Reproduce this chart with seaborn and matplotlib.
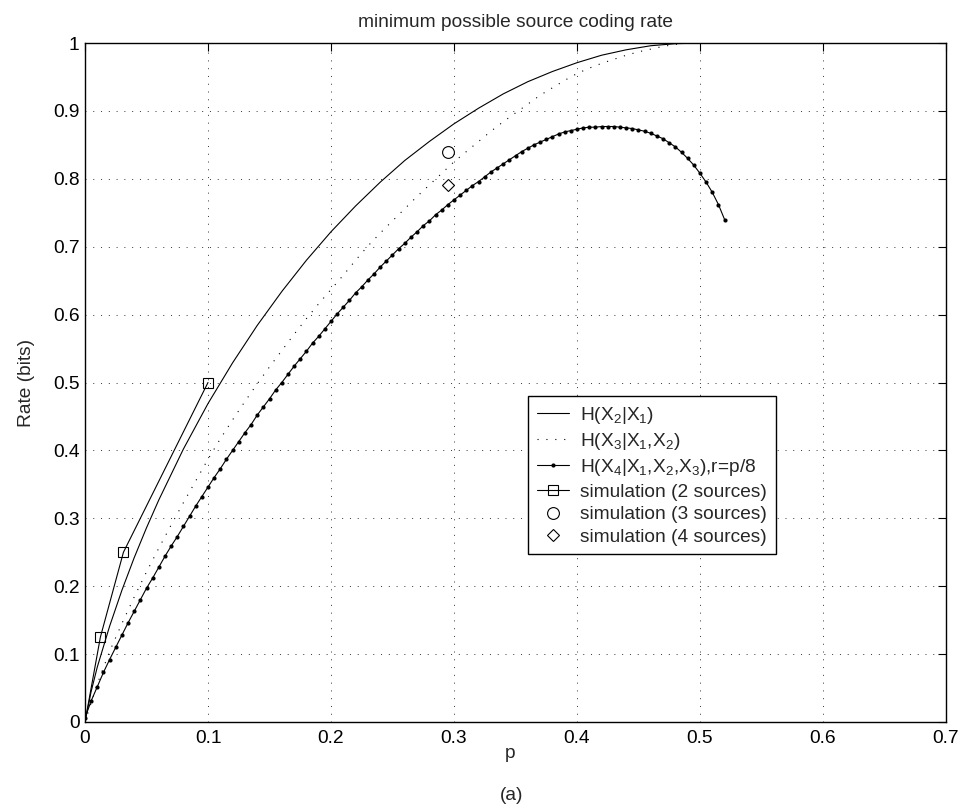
import numpy as np
import matplotlib
matplotlib.use("Agg")
import matplotlib.pyplot as plt
from matplotlib.lines import Line2D
from matplotlib.ticker import FormatStrFormatter
import seaborn as sns

# H(X2|X1)
p_h2 = [0, 0.005, 0.01, 0.02, 0.03, 0.04, 0.05, 0.06, 0.08, 0.10, 0.12, 0.14,
        0.16, 0.18, 0.20, 0.22, 0.24, 0.26, 0.28, 0.30, 0.32, 0.34, 0.36, 0.38,
        0.40, 0.42, 0.44, 0.46, 0.48, 0.50, 0.52]
h2 = [0, 0.045, 0.081, 0.141, 0.194, 0.242, 0.286, 0.327, 0.402, 0.469, 0.529,
      0.584, 0.634, 0.680, 0.722, 0.760, 0.795, 0.827, 0.855, 0.881, 0.904,
      0.925, 0.943, 0.958, 0.971, 0.982, 0.990, 0.996, 0.999, 1.000, 1.000]

# H(X3|X1,X2), dotted curve, every 0.01
p_h3 = np.linspace(0, 0.52, 53)
h3 = [0, 0.056, 0.104, 0.145, 0.184, 0.221, 0.256, 0.290, 0.323, 0.355,
      0.387, 0.417, 0.445, 0.472, 0.498, 0.523, 0.547, 0.571, 0.594, 0.616,
      0.637, 0.658, 0.680, 0.701, 0.720, 0.738, 0.756, 0.774, 0.791, 0.808,
      0.825, 0.840, 0.855, 0.870, 0.884, 0.897, 0.910, 0.923, 0.934, 0.945,
      0.955, 0.963, 0.970, 0.976, 0.982, 0.987, 0.991, 0.995, 0.998, 1.000,
      1.000, 1.000, 1.000]

# H(X4|X1,X2,X3), r=p/8, one dot every 0.005
p_h4 = np.linspace(0, 0.52, 105)
h4 = [0.006, 0.031, 0.052, 0.073, 0.092, 0.110, 0.128, 0.146, 0.163, 0.180,
      0.197, 0.212, 0.228, 0.244, 0.259, 0.273, 0.288, 0.303, 0.318, 0.332,
      0.346, 0.360, 0.373, 0.387, 0.400, 0.413, 0.426, 0.438, 0.452, 0.464,
      0.476, 0.489, 0.500, 0.512, 0.524, 0.535, 0.546, 0.558, 0.568, 0.579,
      0.590, 0.601, 0.611, 0.621, 0.632, 0.641, 0.651, 0.660, 0.670, 0.679,
      0.688, 0.697, 0.705, 0.714, 0.722, 0.731, 0.738, 0.747, 0.754, 0.762,
      0.769, 0.776, 0.783, 0.790, 0.796, 0.803, 0.810, 0.816, 0.822, 0.828,
      0.834, 0.840, 0.845, 0.850, 0.854, 0.858, 0.862, 0.866, 0.869, 0.871,
      0.873, 0.875, 0.876, 0.876, 0.877, 0.877, 0.877, 0.876, 0.875, 0.874,
      0.872, 0.870, 0.867, 0.863, 0.859, 0.853, 0.847, 0.839, 0.830, 0.820,
      0.808, 0.795, 0.780, 0.762, 0.740]

# simulations
sim2_p = [0, 0.0125, 0.03125, 0.1]
sim2_r = [0, 0.125, 0.25, 0.5]
sim3_p = [0.295]
sim3_r = [0.839]
sim4_p = [0.295]
sim4_r = [0.791]

labels = [r"H(X$_2$|X$_1$)",
          r"H(X$_3$|X$_1$,X$_2$)",
          r"H(X$_4$|X$_1$,X$_2$,X$_3$),r=p/8",
          "simulation (2 sources)",
          "simulation (3 sources)",
          "simulation (4 sources)"]

sns.set_style("white")
plt.rcParams["font.family"] = ["Liberation Sans", "DejaVu Sans"]
plt.rcParams["mathtext.fontset"] = "custom"
plt.rcParams["mathtext.rm"] = "Liberation Sans"
plt.rcParams["mathtext.it"] = "Liberation Sans:italic"
fs = 13.8
plt.rcParams["font.size"] = fs

fig = plt.figure(figsize=(9.61, 8.10), dpi=100)
ax = fig.add_axes([85 / 961, 1 - 722 / 810, 861 / 961, 679 / 810])

lw = 0.8
dotted = (0, (1, 7))
sns.lineplot(x=p_h2, y=h2, ax=ax, color="k", linewidth=lw, sort=False)
sns.lineplot(x=p_h3, y=h3, ax=ax, color="k", linewidth=0.8,
             linestyle=dotted, sort=False)
sns.lineplot(x=p_h4, y=h4, ax=ax, color="k", linewidth=lw, sort=False,
             marker="o", markersize=3, markeredgewidth=0)
sns.lineplot(x=sim2_p, y=sim2_r, ax=ax, color="k", linewidth=lw, sort=False)
ax.plot(sim2_p[1:], sim2_r[1:], ls="none", marker="s", ms=6.5,
        mfc="none", mec="k", mew=0.8)
ax.plot(sim3_p, sim3_r, ls="none", marker="o", ms=8.5,
        mfc="none", mec="k", mew=0.8)
ax.plot(sim4_p, sim4_r, ls="none", marker="D", ms=6,
        mfc="none", mec="k", mew=0.8)

ax.set_xlim(0, 0.7)
ax.set_ylim(0, 1)
ax.set_xticks(np.arange(0, 0.71, 0.1))
ax.set_yticks(np.arange(0, 1.01, 0.1))
ax.xaxis.set_major_formatter(FormatStrFormatter("%g"))
ax.yaxis.set_major_formatter(FormatStrFormatter("%g"))
ax.tick_params(direction="in", length=6, width=0.8, top=True, right=True,
               labelsize=fs, colors="k")
ax.tick_params(axis="x", pad=6)
ax.tick_params(axis="y", pad=4)
ax.grid(True, color="0.2", linestyle=dotted, linewidth=0.7)
for s in ax.spines.values():
    s.set_color("k")
    s.set_linewidth(1.0)

ax.set_title("minimum possible source coding rate", fontsize=fs, pad=11.5)
ax.set_xlabel("p", fontsize=fs)
ax.set_ylabel("Rate (bits)", fontsize=fs)
ax.xaxis.set_label_coords(0.494, -0.034)
ax.yaxis.set_label_coords(-0.058, 0.5)
fig.text(511.5 / 961, 1 - 796 / 810, "(a)", ha="center", va="center",
         fontsize=fs)

handles = [
    Line2D([], [], color="k", lw=lw),
    Line2D([], [], color="k", lw=0.8, ls=dotted),
    Line2D([], [], color="k", lw=lw, marker="o", ms=3, mew=0),
    Line2D([], [], color="k", lw=lw, marker="s", ms=6.5, mfc="none",
           mec="k", mew=0.8),
    Line2D([], [], ls="none", marker="o", ms=8.5, mfc="none", mec="k",
           mew=0.8),
    Line2D([], [], ls="none", marker="D", ms=6, mfc="none", mec="k",
           mew=0.8),
]
leg = ax.legend(handles, labels, loc="upper left",
                bbox_to_anchor=(0.5145, 0.480), borderaxespad=0,
                frameon=True, fancybox=False, edgecolor="k", framealpha=1,
                handlelength=1.67, handletextpad=0.6, borderpad=0.45,
                labelspacing=0.27, numpoints=1, fontsize=fs)
leg.get_frame().set_linewidth(1.0)

fig.savefig("out.png", dpi=100)
